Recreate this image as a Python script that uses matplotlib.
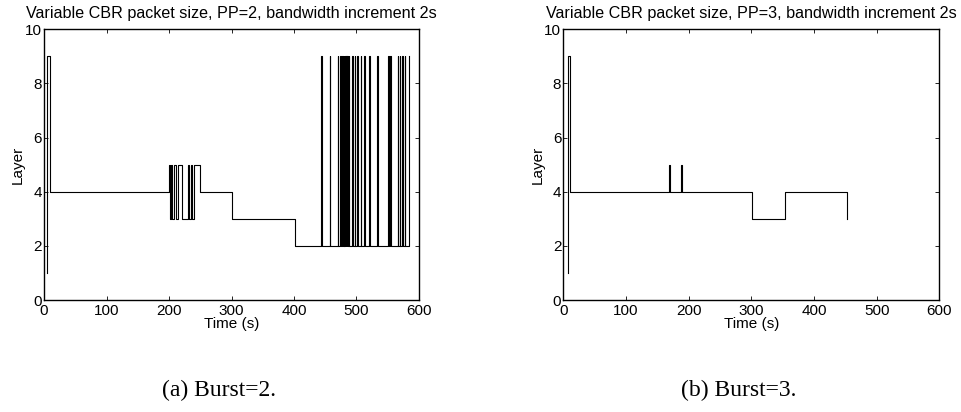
#!/usr/bin/env python3

import matplotlib
matplotlib.use('Agg')

import matplotlib.pyplot as plt

# ------------------------------------------------------------------------------
# layer trace, burst=2 (time in s, layer after the event)
times_b2  = [5, 5.2, 9.6,
             200, 201.6, 203.2, 204.8, 207.5, 211.2, 215, 220.8,
             231, 232.5, 235.2, 237.3, 240, 250, 300, 402,
             443, 444, 457, 458, 470, 471, 474, 475, 477, 478,
             479.5, 480.5, 481.5, 482.5, 483.5, 484.5, 485.5, 486.5,
             487.5, 488.5, 493, 494, 497, 498, 501.5, 502.5, 507, 508,
             512, 513, 520.5, 521.5, 533, 534, 550.5, 551.5, 554, 555,
             566, 567, 569, 570, 573, 574, 577, 578, 584]
layers_b2 = [1, 9, 4,
             5, 3, 5, 3, 5, 3, 5, 3,
             5, 3, 5, 3, 5, 4, 3, 2,
             9, 2, 9, 2, 9, 2, 9, 2, 9, 2,
             9, 2, 9, 2, 9, 2, 9, 2,
             9, 2, 9, 2, 9, 2, 9, 2, 9, 2,
             9, 2, 9, 2, 9, 2, 9, 2, 9, 2,
             9, 2, 9, 2, 9, 2, 9, 2, 9]

# layer trace, burst=3
times_b3  = [7, 7.2, 10.6, 168, 170, 187, 189, 301.6, 353.3, 452.9]
layers_b3 = [1, 9, 4, 5, 4, 5, 4, 3, 4, 3]

titles   = ['Variable CBR packet size, PP=2, bandwidth increment 2s',
            'Variable CBR packet size, PP=3, bandwidth increment 2s']
captions = ['(a) Burst=2.', '(b) Burst=3.']

xticks = [0, 100, 200, 300, 400, 500, 600]
yticks = [0, 2, 4, 6, 8, 10]

plt.rcParams['font.family'] = ['Liberation Sans', 'DejaVu Sans']


# ------------------------------------------------------------------------------
#
def plot_trace(ax, t, l, title):

    ax.step(t, l, where='post', color='black', linewidth=0.8)

    ax.set_xlim(0, 600)
    ax.set_ylim(0, 10)
    ax.set_xticks(xticks)
    ax.set_yticks(yticks)
    ax.tick_params(direction='in', top=True, right=True, length=3,
                   width=0.6, labelsize=11)
    ax.tick_params(axis='x', pad=3)
    ax.tick_params(axis='y', pad=1.5)
    for sp in ax.spines.values():
        sp.set_linewidth(1.0)

    ax.set_title(title, fontsize=11.6, pad=8)
    ax.set_xlabel('Time (s)', fontsize=11, labelpad=-1)
    ax.set_ylabel('Layer', fontsize=11, labelpad=0)


# ------------------------------------------------------------------------------
#
def main():

    fig = plt.figure(figsize=(9.61, 4.12), dpi=100)

    ax1 = fig.add_axes([0.0458, 0.2718, 0.3902, 0.657])
    ax2 = fig.add_axes([0.5862, 0.2718, 0.3913, 0.657])

    plot_trace(ax1, times_b2, layers_b2, titles[0])
    plot_trace(ax2, times_b3, layers_b3, titles[1])

    fig.text(219 / 961, 1 - 390 / 412, captions[0], ha='center', va='center',
             fontsize=17, family='Liberation Serif')
    fig.text(739 / 961, 1 - 390 / 412, captions[1], ha='center', va='center',
             fontsize=17, family='Liberation Serif')

    fig.savefig('out.png', dpi=100)


# ------------------------------------------------------------------------------
#
if __name__ == '__main__':

    main()


# ------------------------------------------------------------------------------
